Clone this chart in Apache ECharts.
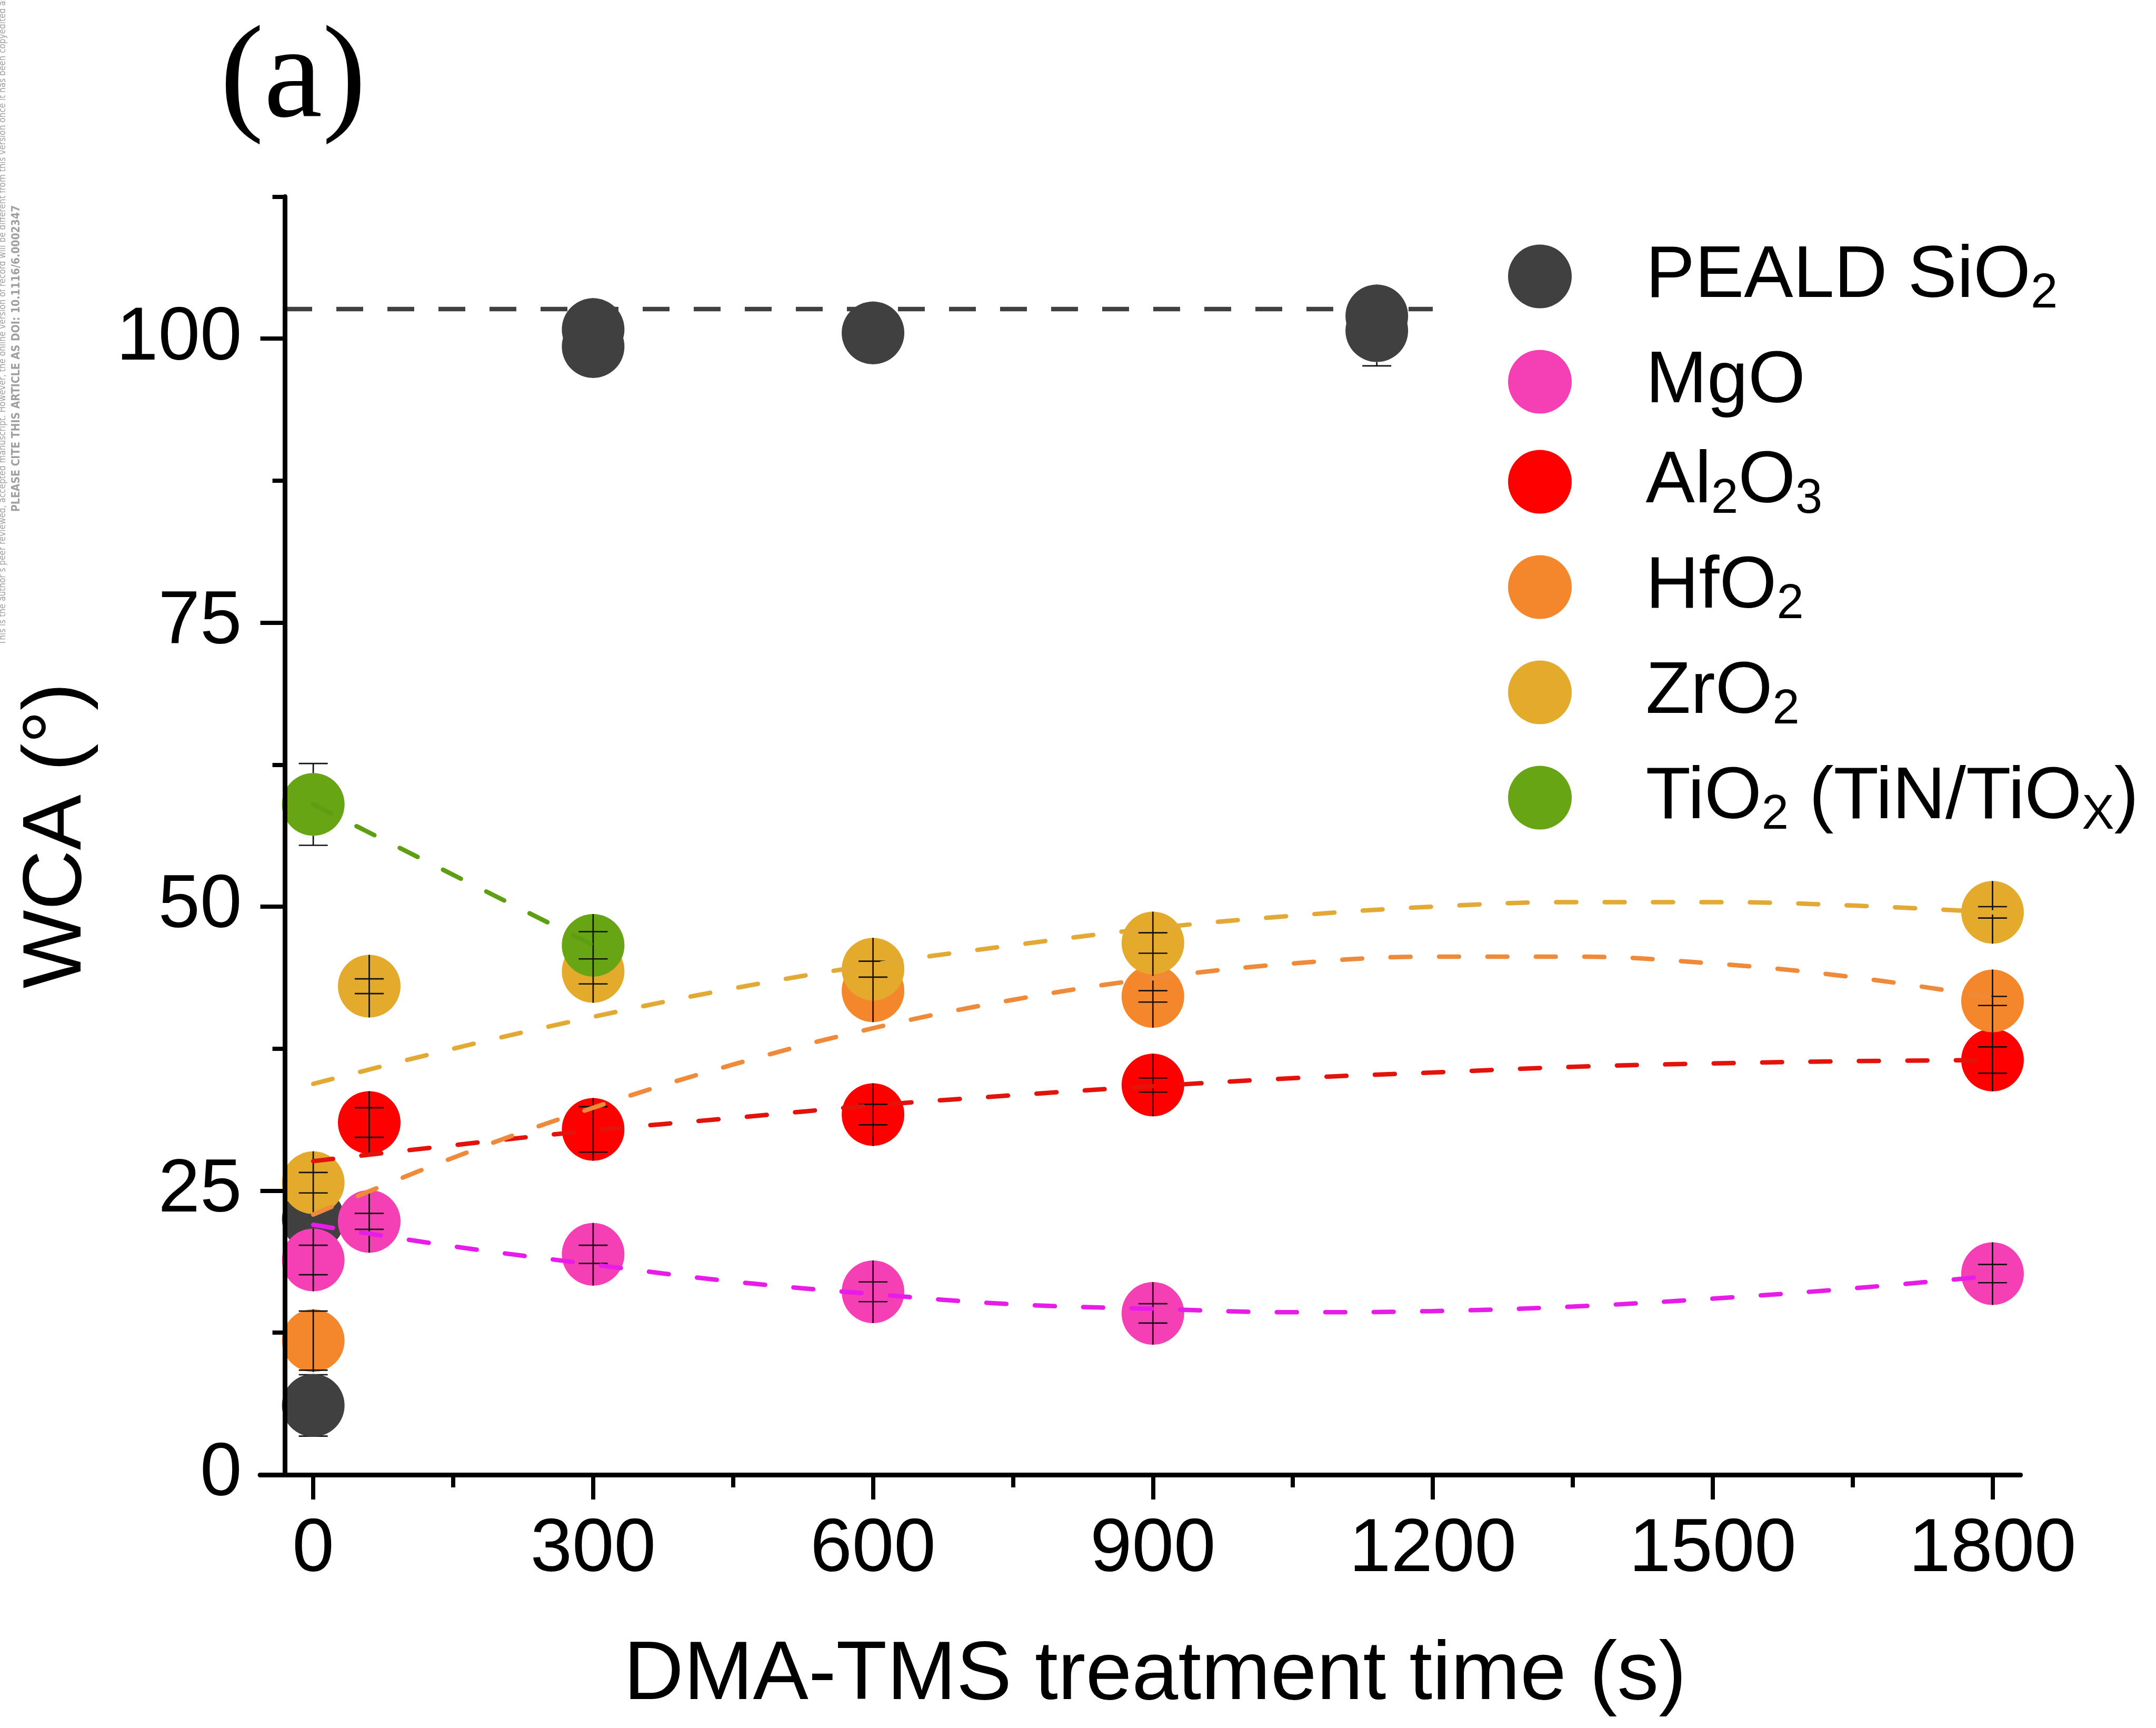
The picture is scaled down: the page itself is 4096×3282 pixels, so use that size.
<!DOCTYPE html>
<html lang="en">
<head>
<meta charset="UTF-8"/>
<title>WCA vs DMA-TMS treatment time</title>
<script src="https://cdn.jsdelivr.net/npm/echarts@6/dist/echarts.min.js"></script>
<style>html, body { margin: 0; padding: 0; background: #fff; }</style>
</head>
<body>
<div id="main" style="width: 4096px; height: 3282px;"></div>
<script type="text/javascript">
// ---- data ----
var names = ['PEALD SiO2', 'MgO', 'Al2O3', 'HfO2', 'ZrO2', 'TiO2 (TiN/TiOX)'];
var legendText = [
    '{m|PEALD SiO}{s|2}',
    '{m|MgO}',
    '{m|Al}{s|2}{m|O}{s|3}',
    '{m|HfO}{s|2}',
    '{m|ZrO}{s|2}',
    '{m|TiO}{s|2}{m| (TiN/TiO}{s|X}{m|)}'
];

// points: [time (s), WCA (deg), error]
var sio2Pts = [[0, 6.1, 2.7], [0, 22.5, 1.0], [300, 100.8, 1.0], [300, 99.3, 1.0], [600, 100.5, 1.0], [1140, 102.0, 1.0], [1140, 100.7, 3.1]];
var mgoPts = [[0, 18.9, 1.3], [60, 22.3, 0.7], [300, 19.4, 0.8], [600, 16.1, 0.87], [900, 14.2, 0.85], [1800, 17.7, 0.8]];
var al2o3Pts = [[60, 31.0, 1.3], [300, 30.4, 2.0], [600, 31.7, 0.9], [900, 34.3, 0.62], [1800, 36.5, 1.16]];
var hfo2Pts = [[0, 11.8, 2.6], [600, 42.6, 0.5], [900, 42.1, 0.5], [1800, 41.7, 0.4]];
var zro2Pts = [[0, 25.7, 0.9], [60, 43.0, 0.65], [300, 44.3, 1.1], [600, 44.5, 0.7], [900, 46.8, 0.9], [1800, 49.5, 0.5]];
var tio2Pts = [[0, 59.0, 3.6], [300, 46.6, 1.2]];

// dashed guide / fit curves: [time (s), WCA (deg)]
var sio2Fit = [[-30, 102.6], [1200, 102.6]];
var mgoFit = [[0, 22.0], [150, 20.1], [300, 18.5], [450, 17.0], [600, 15.9], [750, 15.0], [900, 14.6], [1050, 14.3], [1200, 14.4], [1350, 14.8], [1500, 15.5], [1650, 16.4], [1800, 17.5]];
var al2o3Fit = [[0, 27.6], [150, 29.0], [300, 30.3], [450, 31.4], [600, 32.5], [750, 33.4], [900, 34.2], [1050, 34.9], [1200, 35.4], [1350, 35.9], [1500, 36.2], [1650, 36.4], [1800, 36.5]];
var hfo2Fit = [[0, 22.9], [150, 27.9], [300, 32.3], [450, 36.1], [600, 39.3], [750, 41.8], [900, 43.7], [1050, 45.0], [1200, 45.6], [1350, 45.6], [1500, 45.0], [1650, 43.8], [1800, 42.0]];
var zro2Fit = [[0, 34.4], [150, 37.5], [300, 40.3], [450, 42.8], [600, 44.9], [750, 46.6], [900, 48.1], [1050, 49.2], [1200, 50.0], [1350, 50.4], [1500, 50.4], [1650, 50.1], [1800, 49.5]];
var tio2Fit = [[0, 59.0], [300, 46.6]];

var xMajor = [0, 300, 600, 900, 1200, 1500, 1800];
var xMinor = [150, 450, 750, 1050, 1350, 1650];
var yMajor = [0, 25, 50, 75, 100];
var yMinor = [12.5, 37.5, 62.5, 87.5, 112.5];

var pts = [sio2Pts, mgoPts, al2o3Pts, hfo2Pts, zro2Pts, tio2Pts];
var fits = [sio2Fit, mgoFit, al2o3Fit, hfo2Fit, zro2Fit, tio2Fit];
var colors = ['#404040', '#F540B5', '#FF0000', '#F4862C', '#E4AA2C', '#67A514'];
var lineColors = ['#404040', '#E81CE8', '#E3120B', '#EE8A3A', '#E2AA35', '#5E9E12'];

var FONT = '"Liberation Sans", Arial, sans-serif';
var MARK = 119;   // marker diameter
var CAP = 55;     // error-bar cap width

// error bar: black bar with caps; segment inside the marker only when caps fall inside it
function errorBar(params, api) {
    var x = api.value(0), y = api.value(1), e = api.value(2);
    var c = api.coord([x, y]);
    var top = api.coord([x, y + e])[1];
    var bot = api.coord([x, y - e])[1];
    var r = MARK / 2, w = CAP / 2;
    var st = {stroke: '#111', lineWidth: 2.7};
    var kids = [
        {type: 'line', shape: {x1: c[0] - w, y1: top, x2: c[0] + w, y2: top}, style: st},
        {type: 'line', shape: {x1: c[0] - w, y1: bot, x2: c[0] + w, y2: bot}, style: st}
    ];
    if (c[1] - top > r) {
        kids.push({type: 'line', shape: {x1: c[0], y1: top, x2: c[0], y2: c[1] - r}, style: st});
        kids.push({type: 'line', shape: {x1: c[0], y1: c[1] + r, x2: c[0], y2: bot}, style: st});
    } else {
        kids.push({type: 'line', shape: {x1: c[0], y1: c[1] - r, x2: c[0], y2: c[1] + r}, style: st});
    }
    return {type: 'group', children: kids};
}

var series = [];
for (var i = 0; i < names.length; i++) {
    series.push({
        name: names[i], type: 'scatter', data: pts[i],
        encode: {x: 0, y: 1},
        symbol: 'circle', symbolSize: MARK,
        itemStyle: {color: colors[i], opacity: 1},
        clip: true, silent: true, z: 2 + 0.1 * i
    });
    series.push({
        name: 'err ' + names[i], type: 'custom', data: pts[i],
        encode: {x: 0, y: 1},
        renderItem: errorBar, clip: true, silent: true,
        // SiO2 bars sit under their markers
        z: i === 0 ? 1.95 : 2.05 + 0.1 * i
    });
}
for (var j = 0; j < fits.length; j++) {
    series.push({
        name: 'fit ' + names[j], type: 'line', data: fits[j],
        smooth: j === 0 || j === 5 ? false : 0.4,
        symbol: 'none', showSymbol: false, silent: true, z: 3,
        lineStyle: j === 0
            ? {color: lineColors[j], width: 8.6, type: [51, 46], cap: 'butt'}
            : {color: lineColors[j], width: 8.5, type: [38, 54], cap: 'round'}
    });
}

var myChart = echarts.init(document.getElementById('main'));

option = {
    animation: false,
    backgroundColor: '#fff',
    grid: [
        {left: 494.1, top: 373.4, width: 3344.5, height: 2427.5, outerBoundsMode: 'none'},
        {left: 541.6, top: 373.4, width: 100, height: 2427.5, outerBoundsMode: 'none'}
    ],
    xAxis: [
        {
            gridIndex: 0, type: 'value', min: -57, max: 1830, position: 'bottom',
            axisLine: {show: true, onZero: false, lineStyle: {color: '#000', width: 9}},
            axisTick: {show: true, length: 47, customValues: xMajor, lineStyle: {color: '#000', width: 8}},
            axisLabel: {customValues: xMajor, margin: 72, fontSize: 143, color: '#000', fontFamily: FONT,
                        formatter: function (v) { return String(v); }},
            splitLine: {show: false},
            name: 'DMA-TMS treatment time (s)', nameLocation: 'middle', nameGap: 304,
            nameTextStyle: {fontSize: 158, color: '#000', fontFamily: FONT, padding: [0, 0, 0, 56]}
        },
        {
            gridIndex: 0, type: 'value', min: -57, max: 1830, position: 'bottom',
            axisLine: {show: false, onZero: false},
            axisTick: {show: true, length: 24, customValues: xMinor, lineStyle: {color: '#000', width: 8}},
            axisLabel: {show: false},
            splitLine: {show: false}
        },
        {gridIndex: 1, type: 'value', min: 0, max: 1, show: false}
    ],
    yAxis: [
        {gridIndex: 0, type: 'value', min: 0, max: 112.5, show: false},
        {
            gridIndex: 1, type: 'value', min: 0, max: 112.5, position: 'left', z: 10,
            axisLine: {show: true, onZero: false, lineStyle: {color: '#000', width: 9}},
            axisTick: {show: true, length: 47, customValues: yMajor, lineStyle: {color: '#000', width: 8}},
            axisLabel: {customValues: yMajor, margin: 82, fontSize: 143, color: '#000', fontFamily: FONT},
            splitLine: {show: false},
            name: 'WCA (°)', nameLocation: 'middle', nameGap: 353,
            nameTextStyle: {fontSize: 158, color: '#000', fontFamily: FONT}
        },
        {
            gridIndex: 1, type: 'value', min: 0, max: 112.5, position: 'left', z: 10,
            axisLine: {show: false, onZero: false},
            axisTick: {show: true, length: 24, customValues: yMinor, lineStyle: {color: '#000', width: 8}},
            axisLabel: {show: false},
            splitLine: {show: false}
        }
    ],
    legend: {
        data: names, orient: 'vertical', left: 2865, top: 455, padding: 0,
        itemGap: 50, itemWidth: 392, itemHeight: 121, selectedMode: false,
        icon: 'circle',
        formatter: function (n) { return legendText[names.indexOf(n)]; },
        textStyle: {
            color: '#000', fontSize: 140, fontFamily: FONT,
            rich: {
                m: {fontSize: 140, lineHeight: 160, fontFamily: FONT, color: '#000'},
                s: {fontSize: 92, lineHeight: 30, verticalAlign: 'bottom', fontFamily: FONT, color: '#000'}
            }
        }
    },
    graphic: [
        {type: 'text', x: 418, y: 155, silent: true,
         style: {text: '(a)', fill: '#000', fontSize: 250, fontFamily: '"Liberation Serif", "Times New Roman", serif', verticalAlign: 'middle', align: 'left'}},
        {type: 'text', x: 6, y: 1225, rotation: Math.PI / 2, silent: true,
         style: {text: 'This is the author\u2019s peer reviewed, accepted manuscript. However, the online version of record will be different from this version once it has been copyedited and typeset.',
                 fill: '#a0a0a0', fontSize: 17, fontFamily: '"Liberation Sans Narrow", "DejaVu Sans Condensed", sans-serif', verticalAlign: 'middle', align: 'left'}},
        {type: 'text', x: 32, y: 972, rotation: Math.PI / 2, silent: true,
         style: {text: 'PLEASE CITE THIS ARTICLE AS DOI: 10.1116/6.0002347',
                 fill: '#a0a0a0', fontSize: 21, fontWeight: 'bold', fontFamily: '"Liberation Sans Narrow", "DejaVu Sans Condensed", sans-serif', verticalAlign: 'middle', align: 'left'}}
    ],
    series: series
};

myChart.setOption(option);
</script>
</body>
</html>
